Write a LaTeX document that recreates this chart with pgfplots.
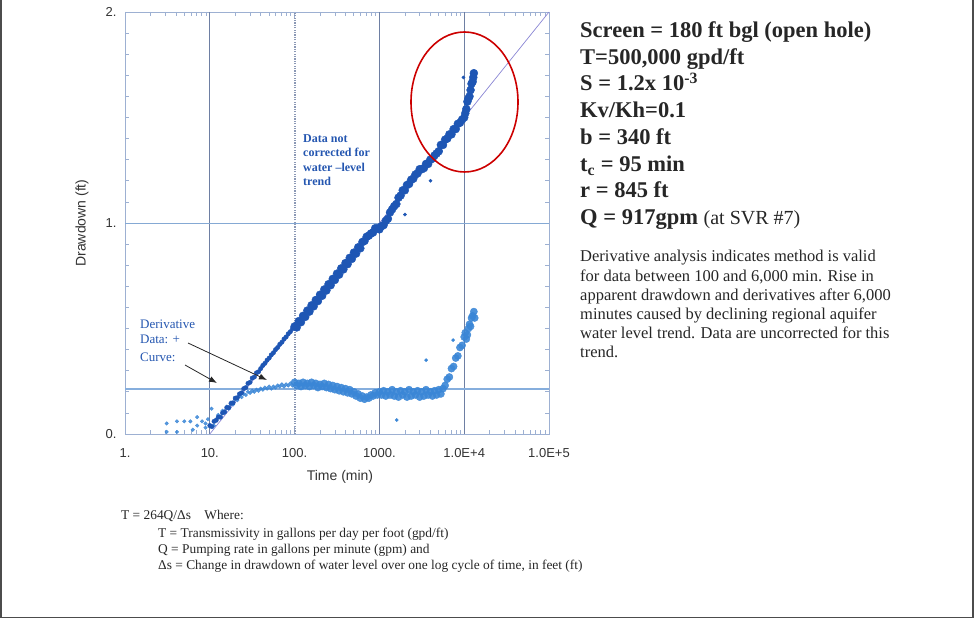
\documentclass[border=0pt]{standalone}
\usepackage{fontspec}
\setmainfont{Liberation Serif}
\setsansfont{Liberation Sans}
\usepackage{pgfplots}
\usepackage{pgfplotstable}
\pgfplotsset{compat=1.18}
\usetikzlibrary{arrows.meta}

\definecolor{ddblue}{HTML}{1E56B4}
\definecolor{dvblue}{HTML}{3A86D6}
\definecolor{gridc}{HTML}{6E7FA3}
\definecolor{framec}{HTML}{9DB0D2}
\definecolor{hline}{HTML}{86AEDD}
\definecolor{fitc}{HTML}{8A86D4}
\definecolor{annblue}{HTML}{2456B0}

% drawdown, time (min) vs drawdown (ft): early part, sparse
\pgfplotstableread{
t s
10 0.04
10.59 0.035
11.22 0.06
11.89 0.065
12.59 0.08
13.34 0.08
14.13 0.10
14.96 0.105
15.85 0.125
16.79 0.125
17.78 0.145
18.84 0.148
19.95 0.17
21.13 0.172
22.39 0.19
23.71 0.195
25.12 0.215
26.61 0.22
28.18 0.24
29.85 0.245
31.62 0.265
33.5 0.27
35.48 0.29
37.58 0.295
39.81 0.31
42.17 0.325
44.67 0.335
47.32 0.35
50.12 0.36
53.09 0.375
56.23 0.385
59.57 0.40
63.1 0.41
66.83 0.425
70.79 0.435
74.99 0.45
79.43 0.46
84.14 0.475
89.13 0.485
94.41 0.50
}\drawearly

% drawdown, main part of the test
\pgfplotstableread{
t s
100 0.51
105.9 0.505
112.2 0.535
118.9 0.53
125.9 0.56
133.4 0.555
141.3 0.585
149.6 0.58
158.5 0.61
167.9 0.605
177.8 0.635
188.4 0.63
199.5 0.66
211.3 0.655
223.9 0.685
237.1 0.68
251.2 0.71
266.1 0.705
281.8 0.735
298.5 0.73
316.2 0.76
335 0.755
354.8 0.785
375.8 0.78
398.1 0.81
421.7 0.805
446.7 0.835
473.2 0.83
501.2 0.86
530.9 0.855
562.3 0.885
595.7 0.88
631 0.91
668.3 0.915
707.9 0.935
749.9 0.94
794.3 0.95
841.4 0.955
891.3 0.975
944.1 0.975
1000 0.97
1059 0.985
1122 0.99
1189 1.01
1259 1.02
1334 1.05
1413 1.065
1496 1.08
1585 1.09
1679 1.12
1778 1.13
1884 1.155
1995 1.155
2113 1.18
2239 1.185
2371 1.205
2512 1.21
2661 1.23
2818 1.235
2985 1.255
3162 1.255
3350 1.26
3548 1.28
3758 1.28
3981 1.30
4217 1.305
4467 1.32
4732 1.33
5012 1.34
5309 1.37
5623 1.37
5957 1.395
6310 1.40
6683 1.42
7079 1.42
7499 1.445
7943 1.445
8414 1.47
8913 1.475
9441 1.49
10000 1.50
10300 1.52
10590 1.54
10900 1.575
11220 1.59
11550 1.60
11890 1.63
12200 1.66
12590 1.67
12800 1.69
13000 1.71
}\drawmain

% drawdown, stray readings
\pgfplotstableread{
t s
2000 1.04
4000 1.20
9800 1.69
}\drawstray

% derivative, early part
\pgfplotstableread{
t d
3.1 0.05
3.1 0.01
4.1 0.06
4.1 0.01
5.0 0.06
5.9 0.06
6.3 0.02
7.1 0.08
7.1 0.04
8.1 0.06
8.9 0.05
8.9 0.03
9.5 0.07
10.5 0.12
11.2 0.04
11.89 0.07
12.59 0.09
13.34 0.08
14.13 0.11
14.96 0.10
15.85 0.13
16.79 0.12
17.78 0.15
18.84 0.14
19.95 0.165
21.13 0.16
22.39 0.18
23.71 0.175
25.12 0.19
26.61 0.185
28.18 0.20
29.85 0.195
31.62 0.205
33.5 0.20
35.48 0.21
37.58 0.205
39.81 0.215
42.17 0.21
44.67 0.22
47.32 0.215
50.12 0.225
53.09 0.215
56.23 0.225
59.57 0.22
63.1 0.23
66.83 0.225
70.79 0.235
74.99 0.225
79.43 0.235
84.14 0.23
89.13 0.24
94.41 0.23
}\derivearly

% derivative, main part
\pgfplotstableread{
t d
100 0.245
105.9 0.23
112.2 0.24
118.9 0.225
125.9 0.245
133.4 0.23
141.3 0.24
149.6 0.225
158.5 0.245
167.9 0.23
177.8 0.24
188.4 0.22
199.5 0.235
211.3 0.225
223.9 0.24
237.1 0.22
251.2 0.235
266.1 0.215
281.8 0.23
298.5 0.21
316.2 0.225
335 0.205
354.8 0.22
375.8 0.20
398.1 0.215
421.7 0.195
446.7 0.21
473.2 0.19
501.2 0.20
530.9 0.18
562.3 0.19
595.7 0.17
631 0.18
668.3 0.165
707.9 0.175
749.9 0.17
794.3 0.185
841.4 0.18
891.3 0.195
944.1 0.185
1000 0.20
1059 0.185
1122 0.205
1189 0.18
1259 0.20
1334 0.185
1413 0.21
1496 0.18
1585 0.20
1679 0.175
1778 0.205
1884 0.185
1995 0.20
2113 0.175
2239 0.21
2371 0.18
2512 0.20
2661 0.185
2818 0.205
2985 0.175
3162 0.20
3350 0.18
3548 0.21
3758 0.185
3981 0.20
4217 0.18
4467 0.205
4732 0.185
5012 0.21
5309 0.19
5623 0.215
5957 0.23
6310 0.26
6683 0.27
7079 0.31
7499 0.32
7943 0.36
8414 0.37
8913 0.41
9441 0.42
10000 0.46
10300 0.48
10590 0.45
10900 0.47
11220 0.50
11550 0.52
11890 0.51
12200 0.55
12590 0.56
13000 0.58
13300 0.55
}\derivmain

% derivative, stray readings
\pgfplotstableread{
t d
1600 0.066
3550 0.35
7400 0.445
}\derivstray

\begin{document}
\begin{tikzpicture}[x=1pt,y=1pt]
\path[use as bounding box] (0,0) rectangle (974,619);
% page border of the screenshot
\draw[black!70, line width=1.5pt] (1,619) -- (1,1.5) -- (973,1.5) -- (973,619);

\begin{axis}[
  at={(125pt,185pt)}, anchor=south west,
  width=424pt, height=422pt, scale only axis,
  xmode=log, xmin=1, xmax=100000, ymin=0, ymax=2,
  xtick={1,10,100,1000,10000,100000},
  xticklabels={1.,10.,100.,1000.,1.0E+4,1.0E+5},
  ytick={0,1,2}, yticklabels={0.,1.,2.},
  minor y tick num=9,
  tick pos=both, tick align=inside,
  major tick length=7pt, minor tick length=4pt,
  every tick/.style={framec, line width=0.8pt},
  axis line style={framec, line width=0.9pt},
  xticklabel style={font=\sffamily\fontsize{13}{13}\selectfont, text=black!80, yshift=-11pt},
  yticklabel style={font=\sffamily\fontsize{13}{13}\selectfont, text=black!80, xshift=-5pt},
  xlabel={Time (min)}, ylabel={Drawdown (ft)},
  xlabel style={font=\sffamily\fontsize{14}{14}\selectfont, text=black!80,
    at={(axis description cs:0.507,-0.102)}, anchor=center},
  ylabel style={font=\sffamily\fontsize{14}{14}\selectfont, text=black!80,
    at={(axis description cs:-0.1015,0.5)}, anchor=center},
  clip=true,
]
% reference lines
\draw[gridc, line width=0.7pt] (axis cs:10,0) -- (axis cs:10,2);
\draw[gridc, line width=0.7pt] (axis cs:1000,0) -- (axis cs:1000,2);
\draw[gridc, line width=0.7pt] (axis cs:10000,0) -- (axis cs:10000,2);
\draw[gridc!80, line width=2pt, dash pattern=on 1.2pt off 1.2pt] (axis cs:100,0) -- (axis cs:100,2);
\draw[hline!90!gray, line width=0.8pt] (axis cs:1,1) -- (axis cs:100000,1);

% Cooper-Jacob straight line and derivative type curve
\addplot[fitc, line width=0.7pt] coordinates {(10,0) (100000,2)};
\addplot[hline, line width=1.4pt] coordinates {(1,0.213) (100000,0.213)};

% derivative data
\addplot[only marks, mark=*, mark size=1.8pt, mark options={draw=dvblue, fill=dvblue}, opacity=0.85]
  table[x=t, y=d] {\derivearly};
\addplot[only marks, mark=*, mark size=3.6pt, mark options={draw=dvblue, fill=dvblue}, opacity=0.9]
  table[x=t, y=d] {\derivmain};
\addplot[only marks, mark=*, mark size=1.6pt, mark options={draw=dvblue, fill=dvblue}]
  table[x=t, y=d] {\derivstray};
% drawdown data
\addplot[only marks, mark=*, mark size=2.2pt, mark options={draw=ddblue, fill=ddblue}]
  table[x=t, y=s] {\drawearly};
\addplot[only marks, mark=*, mark size=4pt, mark options={draw=ddblue, fill=ddblue}]
  table[x=t, y=s] {\drawmain};
\addplot[only marks, mark=*, mark size=1.6pt, mark options={draw=ddblue, fill=ddblue}]
  table[x=t, y=s] {\drawstray};
\end{axis}

% annotations on the plot
\draw[red!80!black, line width=1.6pt] (464.5,517) ellipse (53.5 and 70);
\begin{scope}[font=\bfseries\fontsize{12}{12}\selectfont, text=annblue]
\node[anchor=base west, inner sep=0] at (303,476) {Data not};
\node[anchor=base west, inner sep=0] at (303,462) {corrected for};
\node[anchor=base west, inner sep=0] at (303,447) {water --level};
\node[anchor=base west, inner sep=0] at (303,433) {trend};
\end{scope}
\begin{scope}[font=\fontsize{13}{13}\selectfont, text=annblue]
\node[anchor=base west, inner sep=0] at (140,290) {Derivative};
\node[anchor=base west, inner sep=0] at (140,275) {Data: +};
\node[anchor=base west, inner sep=0] at (140,258) {Curve:};
\end{scope}
\draw[black!85, line width=0.8pt, -{Latex[length=8pt,width=6pt]}] (188,276) -- (267,239);
\draw[black!85, line width=0.8pt, -{Latex[length=8pt,width=6pt]}] (185,254) -- (217,236);

% parameters on the right
\begin{scope}[font=\bfseries\fontsize{22.5}{22.5}\selectfont, text=black!85]
\node[anchor=base west, inner sep=0] at (580,581) {Screen = 180 ft bgl (open hole)};
\node[anchor=base west, inner sep=0] at (580,554) {T=500,000 gpd/ft};
\node[anchor=base west, inner sep=0] at (580,528) {S = 1.2x 10\textsuperscript{-3}};
\node[anchor=base west, inner sep=0] at (580,501) {Kv/Kh=0.1};
\node[anchor=base west, inner sep=0] at (580,474) {b = 340 ft};
\node[anchor=base west, inner sep=0] at (580,447) {t\textsubscript{c} = 95 min};
\node[anchor=base west, inner sep=0] at (580,421) {r = 845 ft};
\node[anchor=base west, inner sep=0] at (580,394) {Q = 917gpm {\mdseries\fontsize{20}{20}\selectfont (at SVR \#7)}};
\end{scope}
\begin{scope}[font=\fontsize{16.5}{16.5}\selectfont, text=black!85]
\node[anchor=base west, inner sep=0] at (580,357) {Derivative analysis indicates method is valid};
\node[anchor=base west, inner sep=0] at (580,337.8) {for data between 100 and 6,000 min. Rise in};
\node[anchor=base west, inner sep=0] at (580,318.6) {apparent drawdown and derivatives after 6,000};
\node[anchor=base west, inner sep=0] at (580,299.4) {minutes caused by declining regional aquifer};
\node[anchor=base west, inner sep=0] at (580,280.2) {water level trend. Data are uncorrected for this};
\node[anchor=base west, inner sep=0] at (580,261) {trend.};
\end{scope}

% formula note at the bottom
\begin{scope}[font=\fontsize{13.4}{13.4}\selectfont, text=black!85]
\node[anchor=base west, inner sep=0] at (121,100) {T = 264Q/Δs\quad Where:};
\node[anchor=base west, inner sep=0] at (158,82) {T = Transmissivity in gallons per day per foot (gpd/ft)};
\node[anchor=base west, inner sep=0] at (158,66) {Q = Pumping rate in gallons per minute (gpm) and};
\node[anchor=base west, inner sep=0] at (158,50) {Δs = Change in drawdown of water level over one log cycle of time, in feet (ft)};
\end{scope}
\end{tikzpicture}
\end{document}
